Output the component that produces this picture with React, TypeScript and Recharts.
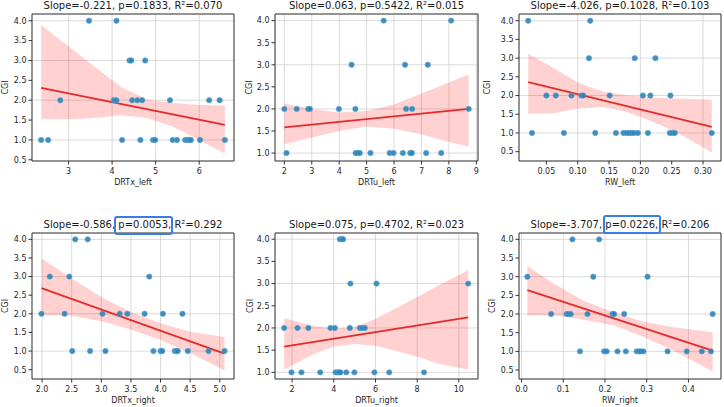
import React from 'react'
import { ComposedChart, Scatter, Area, Line, XAxis, YAxis, CartesianGrid, ReferenceArea } from 'recharts'

const FONT = '"DejaVu Sans", sans-serif'

// DRTx_left
const drtxLeftX = [3.47, 4.1, 4.4, 4.44, 4.76, 2.81, 4.04, 4.1, 4.46, 4.58, 4.69, 5.33, 6.23, 6.47, 2.37, 2.53, 4.23, 4.65, 4.94, 4.99, 5.39, 5.49, 5.68, 5.73, 5.77, 5.81, 6.02, 6.59]
const drtxLeftY = [4, 4, 3, 3, 3, 2, 2, 2, 2, 2, 2, 2, 2, 2, 1, 1, 1, 1, 1, 1, 1, 1, 1, 1, 1, 1, 1, 1]
const drtxLeftBandX = [2.37, 3.0, 3.6, 4.2, 4.8, 5.4, 6.0, 6.59]
const drtxLeftLo = [1.52, 1.52, 1.55, 1.62, 1.55, 1.33, 1.0, 0.66]
const drtxLeftHi = [3.89, 3.35, 2.84, 2.34, 2.02, 1.93, 1.88, 1.87]
const drtxLeftFit = [2.31, 1.38]

// DRTu_left
const drtuLeftX = [5.62, 8.08, 4.45, 6.4, 7.23, 2.0, 2.45, 2.87, 2.93, 3.99, 4.59, 6.44, 6.66, 8.72, 2.08, 4.6, 4.66, 4.75, 5.14, 5.84, 5.98, 6.32, 6.59, 6.65, 7.17, 7.72]
const drtuLeftY = [4, 4, 3, 3, 3, 2, 2, 2, 2, 2, 2, 2, 2, 2, 1, 1, 1, 1, 1, 1, 1, 1, 1, 1, 1, 1]
const drtuLeftBandX = [2.0, 3.0, 4.0, 5.0, 6.0, 7.0, 8.0, 8.72]
const drtuLeftLo = [1.2, 1.35, 1.5, 1.6, 1.55, 1.42, 1.25, 1.15]
const drtuLeftHi = [2.12, 2.0, 1.92, 1.95, 2.1, 2.35, 2.6, 2.78]
const drtuLeftFit = [1.58, 2.0]

// RW_left
const rwLeftX = [0.021, 0.12, 0.118, 0.191, 0.224, 0.05, 0.065, 0.09, 0.106, 0.109, 0.151, 0.204, 0.216, 0.248, 0.027, 0.078, 0.128, 0.161, 0.173, 0.178, 0.182, 0.186, 0.19, 0.196, 0.212, 0.247, 0.251, 0.255, 0.314]
const rwLeftY = [4, 4, 3, 3, 3, 2, 2, 2, 2, 2, 2, 2, 2, 2, 1, 1, 1, 1, 1, 1, 1, 1, 1, 1, 1, 1, 1, 1, 1]
const rwLeftBandX = [0.021, 0.06, 0.1, 0.14, 0.18, 0.22, 0.26, 0.314]
const rwLeftLo = [1.51, 1.52, 1.65, 1.7, 1.55, 1.3, 1.0, 0.48]
const rwLeftHi = [3.12, 2.75, 2.35, 2.1, 2.0, 1.95, 1.92, 1.89]
const rwLeftFit = [2.36, 1.16]

// DRTx_right
const drtxRightX = [2.56, 2.77, 2.13, 2.46, 3.81, 1.99, 2.38, 3.02, 3.31, 3.44, 3.73, 4.04, 4.37, 2.51, 2.81, 3.07, 3.88, 4.0, 4.03, 4.24, 4.27, 4.29, 4.46, 4.81, 5.08]
const drtxRightY = [4, 4, 3, 3, 3, 2, 2, 2, 2, 2, 2, 2, 2, 1, 1, 1, 1, 1, 1, 1, 1, 1, 1, 1, 1]
const drtxRightBandX = [1.99, 2.5, 3.0, 3.5, 4.0, 4.5, 5.08]
const drtxRightLo = [1.96, 1.95, 1.8, 1.58, 1.3, 0.95, 0.48]
const drtxRightHi = [3.49, 2.95, 2.45, 2.05, 1.75, 1.52, 1.38]
const drtxRightFit = [2.69, 0.93]

// DRTu_right
const drtuRightX = [4.29, 4.37, 4.45, 4.8, 6.05, 10.45, 1.62, 2.26, 2.78, 3.84, 4.05, 4.77, 5.25, 5.36, 5.49, 1.97, 2.45, 3.35, 4.08, 4.17, 4.24, 4.32, 4.6, 4.99, 5.95, 6.66, 8.33]
const drtuRightY = [4, 4, 4, 3, 3, 3, 2, 2, 2, 2, 2, 2, 2, 2, 2, 1, 1, 1, 1, 1, 1, 1, 1, 1, 1, 1, 1]
const drtuRightBandX = [1.62, 3, 4, 5, 6, 7, 8, 9, 10.45]
const drtuRightLo = [1.06, 1.4, 1.58, 1.64, 1.6, 1.48, 1.35, 1.2, 1.06]
const drtuRightHi = [2.22, 2.05, 1.98, 2.02, 2.2, 2.45, 2.7, 2.95, 3.3]
const drtuRightFit = [1.58, 2.24]

// RW_right
const rwRightX = [0.122, 0.186, 0.014, 0.172, 0.302, 0.071, 0.108, 0.112, 0.118, 0.158, 0.218, 0.222, 0.246, 0.458, 0.14, 0.198, 0.204, 0.23, 0.25, 0.276, 0.282, 0.286, 0.292, 0.35, 0.396, 0.432, 0.454]
const rwRightY = [4, 4, 3, 3, 3, 2, 2, 2, 2, 2, 2, 2, 2, 2, 1, 1, 1, 1, 1, 1, 1, 1, 1, 1, 1, 1, 1]
const rwRightBandX = [0.014, 0.08, 0.15, 0.22, 0.29, 0.36, 0.458]
const rwRightLo = [1.96, 1.97, 1.85, 1.7, 1.4, 1.05, 0.46]
const rwRightHi = [3.28, 2.8, 2.35, 2.05, 1.8, 1.65, 1.51]
const rwRightFit = [2.64, 1.02]

const yTicksHalf = [0.5, 1.0, 1.5, 2.0, 2.5, 3.0, 3.5, 4.0]
const yTicksOne = [1.0, 1.5, 2.0, 2.5, 3.0, 3.5, 4.0]

const AX = 38
const TOP = 4
const BOT = 30
const RIGHT = 3

const dot = (p: any) => (
  <circle cx={p.cx} cy={p.cy} r={2.7} fill="#2a83b8" fillOpacity={0.9} stroke="#5aa3cc" strokeWidth={0.6} />
)

function Panel(props: any) {
  const { left, top, w, h, title, titleTop, xLabel, xs, ys, bandX, lo, hi, fit, xDomain, yDomain, xTicks, yTicks, xFmt, yLabGap } = props
  const pts = xs.map((x: number, i: number) => ({ x, y: ys[i] }))
  const last = bandX.length - 1
  const rows = bandX.map((x: number, i: number) => ({
    x,
    band: [lo[i], hi[i]],
    fit: i === 0 ? fit[0] : i === last ? fit[1] : null,
  }))
  const tickStyle = { fontSize: 8, fill: '#262626', fontFamily: FONT }
  return (
    <>
      <div
        style={{
          position: 'absolute', left, top: titleTop, width: w, textAlign: 'center',
          fontSize: 10, lineHeight: '12px', color: '#1a1a1a', fontFamily: FONT, whiteSpace: 'nowrap',
        }}
      >
        {title}
      </div>
      <div style={{ position: 'absolute', left: left - AX, top: top - TOP }}>
        <ComposedChart width={w + AX + RIGHT} height={h + TOP + BOT} data={rows} margin={{ top: TOP, right: RIGHT, bottom: 0, left: 0 }}>
          <CartesianGrid stroke="#d2d2d2" strokeWidth={0.8} />
          <XAxis
            dataKey="x" type="number" domain={xDomain} ticks={xTicks} allowDataOverflow height={BOT}
            tickFormatter={xFmt} tick={tickStyle} tickSize={3.5} tickMargin={4} axisLine={false}
            tickLine={{ stroke: '#333' }}
            label={{ value: xLabel, position: 'insideBottom', offset: 6, style: { fontSize: 8, fill: '#262626', fontFamily: FONT } }}
          />
          <YAxis
            type="number" domain={yDomain} ticks={yTicks} allowDataOverflow width={AX}
            tickFormatter={(v: number) => v.toFixed(1)} tick={tickStyle} tickSize={3.5} tickMargin={2} axisLine={false}
            tickLine={{ stroke: '#333' }}
            label={{ value: 'CGI', angle: -90, position: 'insideLeft', offset: AX - yLabGap, style: { fontSize: 8, fill: '#262626', fontFamily: FONT, textAnchor: 'middle' } }}
          />
          <Scatter data={pts} dataKey="y" shape={dot} isAnimationActive={false} />
          <Area dataKey="band" type="linear" stroke="none" fill="#ff0000" fillOpacity={0.18} isAnimationActive={false} activeDot={false} />
          <Line dataKey="fit" type="linear" stroke="#e52a2a" strokeWidth={1.8} dot={false} activeDot={false} connectNulls isAnimationActive={false} />
          <ReferenceArea x1={xDomain[0]} x2={xDomain[1]} y1={yDomain[0]} y2={yDomain[1]} fill="none" stroke="#3a3a3a" strokeWidth={1} ifOverflow="visible" />
        </ComposedChart>
      </div>
    </>
  )
}

const intFmt = (v: number) => String(v)
const fix1 = (v: number) => v.toFixed(1)
const fix2 = (v: number) => v.toFixed(2)

const box = (left: number, top: number, width: number, height: number) => (
  <div
    style={{
      position: 'absolute', left, top, width, height, boxSizing: 'border-box',
      border: '2.7px solid #3b7de6', borderRadius: 3,
    }}
  />
)

export default function App() {
  const r1 = { top: 14, h: 147, titleTop: 0 }
  const r2 = { top: 233, h: 146, titleTop: 219 }
  const c1 = { left: 32, w: 202 }
  const c2 = { left: 275, w: 203 }
  const c3 = { left: 519, w: 202 }
  return (
    <div style={{ position: 'absolute', left: 0, top: 0, width: 724, height: 407, background: '#fff', overflow: 'hidden', fontFamily: FONT }}>
      <Panel {...r1} {...c1} title="Slope=-0.221, p=0.1833, R²=0.070" xLabel="DRTx_left"
        xs={drtxLeftX} ys={drtxLeftY} bandX={drtxLeftBandX} lo={drtxLeftLo} hi={drtxLeftHi} fit={drtxLeftFit}
        xDomain={[2.16, 6.8]} yDomain={[0.47, 4.17]} xTicks={[3, 4, 5, 6]} yTicks={yTicksHalf} xFmt={intFmt} yLabGap={27} />
      <Panel {...r1} {...c2} title="Slope=0.063, p=0.5422, R²=0.015" xLabel="DRTu_left"
        xs={drtuLeftX} ys={drtuLeftY} bandX={drtuLeftBandX} lo={drtuLeftLo} hi={drtuLeftHi} fit={drtuLeftFit}
        xDomain={[1.66, 9.06]} yDomain={[0.82, 4.15]} xTicks={[2, 3, 4, 5, 6, 7, 8, 9]} yTicks={yTicksOne} xFmt={intFmt} yLabGap={26} />
      <Panel {...r1} {...c3} title="Slope=-4.026, p=0.1028, R²=0.103" xLabel="RW_left"
        xs={rwLeftX} ys={rwLeftY} bandX={rwLeftBandX} lo={rwLeftLo} hi={rwLeftHi} fit={rwLeftFit}
        xDomain={[0.0063, 0.3287]} yDomain={[0.25, 4.18]} xTicks={[0.05, 0.1, 0.15, 0.2, 0.25, 0.3]} yTicks={yTicksHalf} xFmt={fix2} yLabGap={32} />
      <Panel {...r2} {...c1} title="Slope=-0.586, p=0.0053, R²=0.292" xLabel="DRTx_right"
        xs={drtxRightX} ys={drtxRightY} bandX={drtxRightBandX} lo={drtxRightLo} hi={drtxRightHi} fit={drtxRightFit}
        xDomain={[1.83, 5.24]} yDomain={[0.25, 4.17]} xTicks={[2, 2.5, 3, 3.5, 4, 4.5, 5]} yTicks={yTicksHalf} xFmt={fix1} yLabGap={27} />
      <Panel {...r2} {...c2} title="Slope=0.075, p=0.4702, R²=0.023" xLabel="DRTu_right"
        xs={drtuRightX} ys={drtuRightY} bandX={drtuRightBandX} lo={drtuRightLo} hi={drtuRightHi} fit={drtuRightFit}
        xDomain={[1.18, 10.92]} yDomain={[0.85, 4.14]} xTicks={[2, 4, 6, 8, 10]} yTicks={yTicksOne} xFmt={intFmt} yLabGap={25} />
      <Panel {...r2} {...c3} title="Slope=-3.707, p=0.0226, R²=0.206" xLabel="RW_right"
        xs={rwRightX} ys={rwRightY} bandX={rwRightBandX} lo={rwRightLo} hi={rwRightHi} fit={rwRightFit}
        xDomain={[-0.006, 0.478]} yDomain={[0.26, 4.17]} xTicks={[0, 0.1, 0.2, 0.3, 0.4]} yTicks={yTicksHalf} xFmt={fix1} yLabGap={27} />
      {box(114, 216, 59, 19)}
      {box(603, 215, 58, 19)}
    </div>
  )
}
